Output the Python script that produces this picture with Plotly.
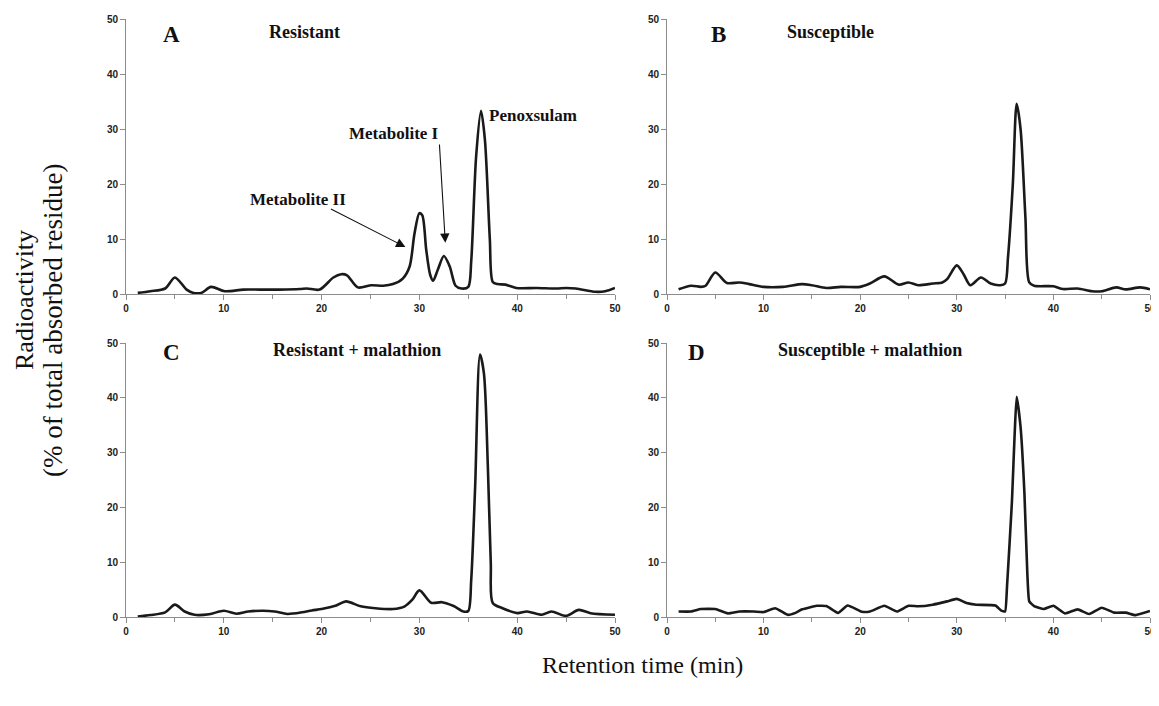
import plotly.graph_objects as go

# ---------------- data (retention time in min, radioactivity in %) ----------------
time_a = [1.2, 2.5, 4.0, 5.0, 6.2, 6.9, 7.7, 8.7, 10.1, 12.0, 13.7, 15.7, 17.8, 18.5, 19.8,
          21.2, 22.0, 22.6, 23.7, 25.1, 26.3, 27.3, 28.3, 29.0, 29.5, 30.0, 30.3, 30.7, 31.1,
          31.4, 31.9, 32.5, 33.1, 33.7, 34.3, 35.0, 35.3, 35.8, 36.3, 36.7, 37.2, 37.5, 38.0,
          38.8, 39.9, 42.0, 44.0, 45.0, 46.0, 48.0, 49.0, 50.0]
resistant = [0.2, 0.5, 1.0, 3.0, 0.8, 0.2, 0.2, 1.3, 0.5, 0.8, 0.8, 0.8, 0.9, 1.0, 0.8,
             3.0, 3.6, 3.4, 1.2, 1.6, 1.5, 1.8, 2.8, 5.0, 11.0, 14.7, 14.3, 8.0, 3.5,
             2.4, 4.5, 6.9, 5.0, 1.5, 1.0, 1.3, 6.0, 25.0, 33.3, 28.0, 10.0, 2.2, 1.8,
             1.7, 1.1, 1.1, 1.0, 1.1, 1.0, 0.4, 0.5, 1.1]

time_b = [1.2, 2.5, 3.5, 4.0, 5.0, 6.2, 7.5, 8.5, 10.0, 12.0, 14.0, 15.0, 16.5, 18.0, 20.0,
          21.0, 22.5, 24.0, 25.0, 26.0, 27.5, 28.5, 29.0, 30.0, 30.7, 31.4, 32.5, 33.5, 34.5,
          35.0, 35.3, 35.8, 36.2, 36.6, 37.1, 37.5, 38.0, 40.0, 41.0, 42.5, 44.0, 45.0, 46.5,
          47.5, 49.0, 50.0]
susceptible = [0.85, 1.5, 1.3, 1.5, 3.9, 2.0, 2.1, 1.8, 1.3, 1.3, 1.8, 1.6, 1.1, 1.3, 1.3,
               1.9, 3.2, 1.7, 2.1, 1.6, 1.9, 2.1, 2.7, 5.2, 3.6, 1.6, 3.0, 1.9, 1.6,
               1.9, 6.7, 20.0, 34.6, 30.0, 14.0, 2.1, 1.5, 1.4, 0.9, 1.0, 0.5, 0.5, 1.2,
               0.85, 1.2, 0.85]

time_c = [1.2, 2.5, 4.0, 5.0, 6.0, 7.0, 8.5, 10.0, 11.3, 12.5, 14.0, 15.2, 16.5, 18.0, 19.0,
          20.0, 21.5, 22.5, 24.0, 25.5, 27.3, 28.5, 29.3, 30.0, 31.2, 32.3, 33.5, 34.5, 35.0,
          35.3, 35.7, 36.2, 36.6, 37.0, 37.3, 37.5, 38.5, 40.0, 41.0, 42.5, 43.5, 45.0, 46.3,
          47.5, 50.0]
resistant_mal = [0.1, 0.35, 0.85, 2.25, 1.0, 0.4, 0.5, 1.15, 0.6, 1.0, 1.15, 1.0, 0.55, 0.85, 1.2,
                 1.45, 2.1, 2.85, 1.95, 1.6, 1.45, 1.95, 3.2, 4.85, 2.6, 2.7, 2.0, 1.0, 1.1,
                 6.8, 23.8, 47.9, 44.4, 27.4, 9.8, 2.55, 1.6, 0.7, 1.0, 0.4, 1.0, 0.2, 1.3,
                 0.7, 0.4]

time_d = [1.2, 2.5, 3.5, 5.0, 6.3, 7.5, 9.0, 10.0, 11.2, 12.5, 13.3, 14.0, 15.5, 16.5, 17.7,
          18.7, 20.2, 21.0, 22.5, 23.8, 25.0, 26.0, 27.5, 29.0, 30.0, 31.0, 32.0, 34.0, 34.6,
          35.0, 35.2, 35.7, 36.2, 36.6, 37.0, 37.3, 37.5, 38.0, 39.0, 40.0, 41.2, 42.5, 43.7,
          45.0, 46.3, 47.5, 48.5, 50.0]
susceptible_mal = [1.0, 1.0, 1.45, 1.45, 0.65, 1.0, 1.0, 0.9, 1.6, 0.4, 0.75, 1.4, 2.05, 2.0, 0.75,
                   2.1, 0.95, 1.0, 2.05, 1.0, 2.05, 1.95, 2.25, 2.85, 3.3, 2.55, 2.25, 2.1, 1.15,
                   1.0, 5.6, 20.8, 40.2, 34.7, 22.6, 8.0, 2.85, 2.0, 1.45, 2.05, 0.65, 1.4, 0.55,
                   1.7, 0.8, 0.8, 0.35, 1.1]

panel_letters = ["A", "B", "C", "D"]
panel_titles = ["Resistant", "Susceptible", "Resistant + malathion", "Susceptible + malathion"]
x_ticks = [0, 10, 20, 30, 40, 50]
y_ticks = [0, 10, 20, 30, 40, 50]

# ---------------- figure ----------------
OFF = 8  # page body margin of the browser
W, H = 1159 - OFF, 706 - 2 * OFF
def px_x(p):
    return (p - OFF) / W
def px_y(p):
    return 1 - (p - OFF) / H

dom_x_left = [px_x(126), px_x(615)]
dom_x_right = [px_x(667), px_x(1150)]
dom_y_top = [px_y(294), px_y(19)]
dom_y_bot = [px_y(617), px_y(343)]

fig = go.Figure()
series = [(time_a, resistant, 0.8), (time_b, susceptible, 0.8),
          (time_c, resistant_mal, 0.8), (time_d, susceptible_mal, 0.4)]
for i, (t, v, sm) in enumerate(series):
    sfx = "" if i == 0 else str(i + 1)
    fig.add_trace(go.Scatter(x=t, y=v, mode="lines", xaxis="x" + sfx, yaxis="y" + sfx,
                             line=dict(color="#1a1a1a", width=2.6, shape="spline", smoothing=sm),
                             showlegend=False, hoverinfo="skip"))

tickfont = dict(family="Liberation Sans, Arial", size=10, color="#222222", weight="bold")
common = dict(showline=True, linecolor="#8c8c8c", linewidth=1, ticks="outside", ticklen=5,
              tickcolor="#8c8c8c", showgrid=False, zeroline=False, tickfont=tickfont,
              range=[0, 50], fixedrange=True, automargin=False)
domains = [(dom_x_left, dom_y_top), (dom_x_right, dom_y_top),
           (dom_x_left, dom_y_bot), (dom_x_right, dom_y_bot)]
layout_axes = {}
for i, (dx, dy) in enumerate(domains):
    sfx = "" if i == 0 else str(i + 1)
    layout_axes["xaxis" + sfx] = dict(common, domain=dx, anchor="y" + sfx, tickvals=x_ticks,
                                      minor=dict(dtick=5, tick0=0, ticks="outside", ticklen=4,
                                                 tickcolor="#8c8c8c", showgrid=False))
    layout_axes["yaxis" + sfx] = dict(common, domain=dy, anchor="x" + sfx, tickvals=y_ticks)

ann = []
serif = "Liberation Serif, Times New Roman"
ink = "#111111"
letter_pos = [(4.7, 47.1), (5.3, 47.1), (4.7, 48.2), (3.1, 48.2)]
title_pos = [(18.3, 47.6), (16.9, 47.6), (23.6, 48.7), (21.05, 48.7)]
for i in range(4):
    sfx = "" if i == 0 else str(i + 1)
    ann.append(dict(x=letter_pos[i][0], y=letter_pos[i][1], xref="x" + sfx, yref="y" + sfx,
                    xanchor="center", yanchor="middle",
                    text="<b>%s</b>" % panel_letters[i], showarrow=False,
                    font=dict(family=serif, size=23, color=ink)))
    ann.append(dict(x=title_pos[i][0], y=title_pos[i][1], xref="x" + sfx, yref="y" + sfx,
                    xanchor="center", yanchor="middle",
                    text="<b>%s</b>" % panel_titles[i], showarrow=False,
                    font=dict(family=serif, size=18, color=ink)))

# peak labels in panel A
ann.append(dict(x=27.45, y=29.1, xref="x", yref="y", text="<b>Metabolite I</b>", showarrow=False,
                xanchor="center", yanchor="middle", font=dict(family=serif, size=17, color=ink)))
ann.append(dict(x=17.55, y=17.1, xref="x", yref="y", text="<b>Metabolite II</b>", showarrow=False,
                xanchor="center", yanchor="middle", font=dict(family=serif, size=17, color=ink)))
ann.append(dict(x=36.9, y=32.5, xref="x", yref="y", text="<b>Penoxsulam</b>", showarrow=False,
                xanchor="left", yanchor="middle", font=dict(family=serif, size=17, color=ink)))
ann.append(dict(x=32.65, y=9.3, ax=32.04, ay=27.45, xref="x", yref="y", axref="x", ayref="y",
                text="", showarrow=True, arrowhead=2, arrowsize=1.7, arrowwidth=1.1,
                arrowcolor=ink))
ann.append(dict(x=28.57, y=8.55, ax=20.8, ay=15.6, xref="x", yref="y", axref="x", ayref="y",
                text="", showarrow=True, arrowhead=2, arrowsize=1.7, arrowwidth=1.1,
                arrowcolor=ink))

# axis titles
ann.append(dict(x=px_x(642), y=px_y(665), xref="paper", yref="paper", text="Retention time (min)",
                xanchor="center", yanchor="middle",
                showarrow=False, font=dict(family=serif, size=24, color=ink)))
ann.append(dict(x=px_x(25), y=px_y(300), xref="paper", yref="paper", text="Radioactivity",
                xanchor="center", yanchor="middle",
                textangle=-90, showarrow=False, font=dict(family=serif, size=26, color=ink)))
ann.append(dict(x=px_x(53), y=px_y(321), xref="paper", yref="paper",
                text="(% of total absorbed residue)", textangle=-90, showarrow=False,
                xanchor="center", yanchor="middle",
                font=dict(family=serif, size=27, color=ink)))

fig.update_layout(width=W, height=H, margin=dict(l=0, r=0, t=0, b=0),
                  paper_bgcolor="white", plot_bgcolor="white", annotations=ann, **layout_axes)

fig.write_html("out.html")
